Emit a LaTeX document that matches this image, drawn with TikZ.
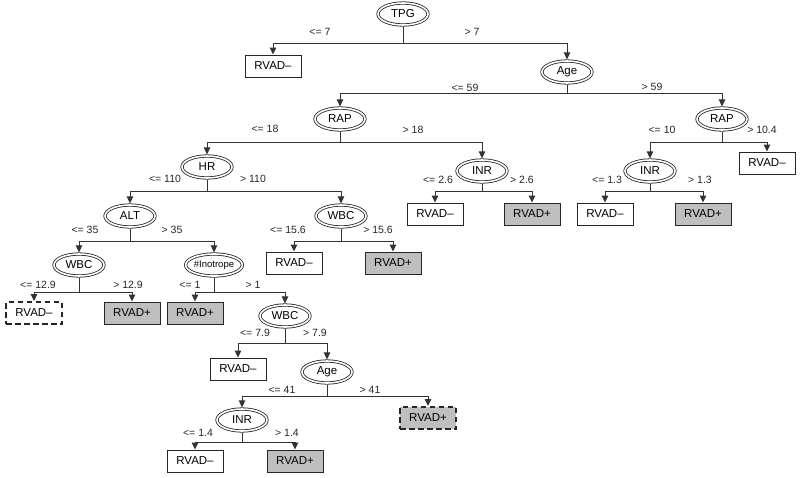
\documentclass[tikz,border=0pt]{standalone}
\usepackage{fontspec}
\setmainfont{Liberation Sans}
\usetikzlibrary{arrows.meta,shapes.geometric}

\begin{document}
\begin{tikzpicture}[
    x=1pt,
    y=-1pt,
    testnode/.style={
        ellipse,
        draw=black!85,
        double,
        double distance=1.6pt,
        line width=0.8pt,
        outer sep=1.6pt,
        minimum width=50pt,
        minimum height=22pt,
        inner sep=0pt,
        font=\fontsize{11.5}{13}\selectfont
    },
    leafneg/.style={
        draw=black!85,
        fill=white,
        line width=1pt,
        minimum width=56pt,
        minimum height=22pt,
        inner sep=0pt,
        font=\fontsize{11.5}{13}\selectfont
    },
    leafpos/.style={leafneg, fill=black!25},
    unsure/.style={dash pattern=on 5.5pt off 3.5pt, line width=2pt},
    branch/.style={draw=black!80, line width=1pt},
    armline/.style={
        branch,
        -{Triangle[length=7pt,width=6.5pt]}
    },
    cutlabel/.style={font=\fontsize{10.5}{12}\selectfont, text=black!85}
]
\useasboundingbox (0,0) rectangle (800,477);

% attribute tests
\node[testnode] (tpg) at (403,14) {TPG};
\node[testnode] (age1) at (567,72) {Age};
\node[testnode] (rap1) at (340,119) {RAP};
\node[testnode] (rap2) at (722,119) {RAP};
\node[testnode] (hr) at (207,167) {HR};
\node[testnode] (inr1) at (482,171) {INR};
\node[testnode] (inr2) at (650,171) {INR};
\node[testnode] (alt) at (130,216) {ALT};
\node[testnode] (wbc1) at (341,216) {WBC};
\node[testnode] (wbc2) at (79,265) {WBC};
\node[testnode, font=\fontsize{9.5}{11}\selectfont] (ino) at (214,265) {\#Inotrope};
\node[testnode] (wbc3) at (285,316) {WBC};
\node[testnode] (age2) at (327,372) {Age};
\node[testnode] (inr3) at (242,420) {INR};

% leaves
\node[leafneg] (rvd1) at (273,66) {RVAD–};
\node[leafneg] (rvd2) at (767,163) {RVAD–};
\node[leafneg] (rvd3) at (435,214) {RVAD–};
\node[leafpos] (rvp1) at (532,214) {RVAD+};
\node[leafneg] (rvd4) at (605,214) {RVAD–};
\node[leafpos] (rvp2) at (703,214) {RVAD+};
\node[leafneg] (rvd5) at (294,263) {RVAD–};
\node[leafpos] (rvp3) at (393,263) {RVAD+};
\node[leafneg, unsure] (rvd6) at (34,313) {RVAD–};
\node[leafpos] (rvp4) at (132,313) {RVAD+};
\node[leafpos] (rvp5) at (195,313) {RVAD+};
\node[leafneg] (rvd7) at (238,369) {RVAD–};
\node[leafpos, unsure] (rvp6) at (428,418) {RVAD+};
\node[leafneg] (rvd8) at (195,461) {RVAD–};
\node[leafpos] (rvp7) at (295,461) {RVAD+};

% branch points
\coordinate (tpg-j) at (403,43);
\coordinate (age1-j) at (567,93);
\coordinate (rap1-j) at (340,142);
\coordinate (rap2-j) at (722,142);
\coordinate (hr-j) at (207,191);
\coordinate (inr1-j) at (482,191);
\coordinate (inr2-j) at (650,191);
\coordinate (alt-j) at (130,241);
\coordinate (wbc1-j) at (341,241);
\coordinate (wbc2-j) at (79,292);
\coordinate (ino-j) at (214,292);
\coordinate (wbc3-j) at (285,343);
\coordinate (age2-j) at (327,396);
\coordinate (inr3-j) at (242,442);

% connectors
\foreach \p/\l/\r in {tpg/rvd1/age1, age1/rap1/rap2, rap1/hr/inr1,
    rap2/inr2/rvd2, hr/alt/wbc1, inr1/rvd3/rvp1, inr2/rvd4/rvp2,
    alt/wbc2/ino, wbc1/rvd5/rvp3, wbc2/rvd6/rvp4, ino/rvp5/wbc3,
    wbc3/rvd7/age2, age2/inr3/rvp6, inr3/rvd8/rvp7}{
    \draw[branch] (\p.south) -- (\p-j);
    \draw[armline] (\p-j) -| (\l.north);
    \draw[armline] (\p-j) -| (\r.north);
}

% split values
\node[cutlabel] (tpg-a) at (320,32) {<= 7};
\node[cutlabel] (tpg-b) at (472,32) {> 7};
\node[cutlabel] (age1-a) at (465,88) {<= 59};
\node[cutlabel] (age1-b) at (652,87) {> 59};
\node[cutlabel] (rap1-a) at (265,129) {<= 18};
\node[cutlabel] (rap1-b) at (413,130) {> 18};
\node[cutlabel] (rap2-a) at (662,130) {<= 10};
\node[cutlabel] (rap2-b) at (762,130) {> 10.4};
\node[cutlabel] (hr-a) at (165,179) {<= 110};
\node[cutlabel] (hr-b) at (253,179) {> 110};
\node[cutlabel] (inr1-a) at (438,180) {<= 2.6};
\node[cutlabel] (inr1-b) at (522,180) {> 2.6};
\node[cutlabel] (inr2-a) at (607,180) {<= 1.3};
\node[cutlabel] (inr2-b) at (700,180) {> 1.3};
\node[cutlabel] (alt-a) at (85,230) {<= 35};
\node[cutlabel] (alt-b) at (172,230) {> 35};
\node[cutlabel] (wbc1-a) at (288,230) {<= 15.6};
\node[cutlabel] (wbc1-b) at (378,230) {> 15.6};
\node[cutlabel] (wbc2-a) at (38,285) {<= 12.9};
\node[cutlabel] (wbc2-b) at (128,285) {> 12.9};
\node[cutlabel] (ino-a) at (190,285) {<= 1};
\node[cutlabel] (ino-b) at (253,285) {> 1};
\node[cutlabel] (wbc3-a) at (255,333) {<= 7.9};
\node[cutlabel] (wbc3-b) at (315,333) {> 7.9};
\node[cutlabel] (age2-a) at (282,390) {<= 41};
\node[cutlabel] (age2-b) at (370,390) {> 41};
\node[cutlabel] (inr3-a) at (198,433) {<= 1.4};
\node[cutlabel] (inr3-b) at (287,433) {> 1.4};

\end{tikzpicture}
\end{document}
